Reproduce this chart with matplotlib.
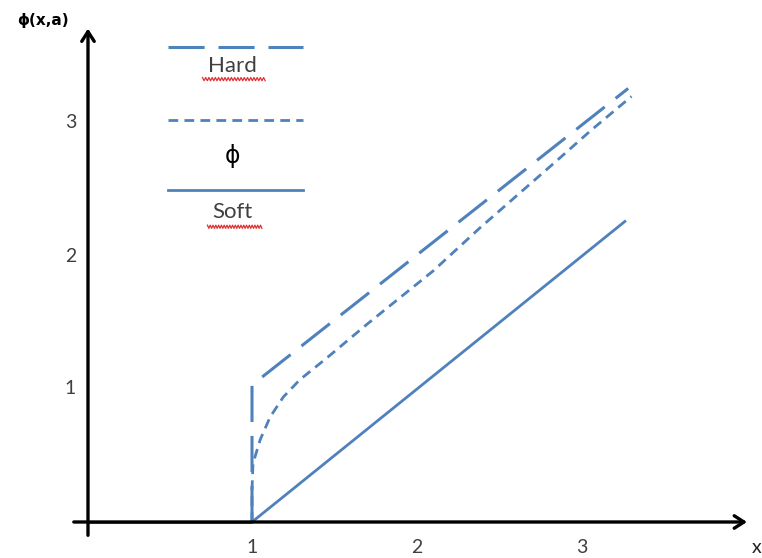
import numpy as np
import matplotlib.pyplot as plt

plt.rcParams['lines.scale_dashes'] = False

zero_x = [0.0, 1.0]
zero_y = [0.0, 0.0]

hard_x = [1.0, 1.0, 3.28]
hard_y = [0.0, 1.03, 3.26]

soft_x = [1.0, 3.26]
soft_y = [0.0, 2.26]

phi_x = [1.0, 1.0, 1.006, 1.05, 1.11, 1.19, 1.29, 1.45, 1.70, 2.10, 2.38, 2.85, 3.05, 3.30]
phi_y = [0.0, 0.24, 0.44, 0.62, 0.79, 0.94, 1.07, 1.23, 1.49, 1.89, 2.21, 2.72, 2.94, 3.20]

x_ticks = [1, 2, 3]
y_ticks = [1, 2, 3]

blue = '#4F81BD'
long_dash = (0, (26, 10))
short_dash = (0, (7, 4.5))

fig = plt.figure(figsize=(7.62, 5.58), dpi=100)
ax = fig.add_axes([0, 0, 1, 1])
ax.set_xlim(-87 / 165, 675 / 165)
ax.set_ylim(-36 / 133, 522 / 133)
ax.axis('off')

# axes with arrow heads
arrow = dict(arrowstyle='->, head_length=0.7, head_width=0.45', lw=2.4,
             color='black', shrinkA=0, shrinkB=0)
ax.annotate('', xy=(4.0, 0), xytext=(-0.08, 0), arrowprops=arrow)
ax.annotate('', xy=(0.006, 3.71), xytext=(0.006, -0.10), arrowprops=arrow)

# curves
ax.plot(zero_x, zero_y, color=blue, lw=2.2, solid_capstyle='butt')
ax.plot(hard_x, hard_y, color=blue, lw=2.2, linestyle=long_dash)
ax.plot(phi_x, phi_y, color=blue, lw=2.0, linestyle=short_dash)
ax.plot(soft_x, soft_y, color=blue, lw=2.0)

# tick labels
for t in x_ticks:
    ax.text(t, -0.195, str(t), ha='center', va='center', fontsize=14,
            color='#404040', family='Lato')
for t in y_ticks:
    ax.text(-0.10, t, str(t), ha='center', va='center', fontsize=14,
            color='#404040', family='Lato')

ax.text(4.06, -0.19, 'x', ha='center', va='center', fontsize=14,
        color='#202020', family='Lato')
ax.text(-0.27, 3.77, 'ϕ(x,a)', ha='center', va='center', fontsize=11,
        fontweight='bold', color='black', family='DejaVu Sans')

# hand-drawn key
ax.plot([0.49, 1.31], [3.57, 3.57], color=blue, lw=2.2, linestyle=long_dash)
ax.plot([0.49, 1.31], [3.02, 3.02], color=blue, lw=2.0, linestyle=short_dash)
ax.plot([0.49, 1.31], [2.50, 2.50], color=blue, lw=2.0)
ax.text(0.88, 3.43, 'Hard', ha='center', va='center', fontsize=16,
        color='#404040', family='Lato')
ax.text(0.88, 2.75, 'ϕ', ha='center', va='center', fontsize=17,
        color='black', family='DejaVu Sans')
ax.text(0.88, 2.33, 'Soft', ha='center', va='center', fontsize=16,
        color='#404040', family='Lato')

# spell-check squiggles under the words
for x0, x1, y0 in [(0.70, 1.08, 3.33), (0.73, 1.06, 2.22)]:
    sx = np.linspace(x0, x1, 40)
    sy = y0 + 0.012 * np.where(np.arange(40) % 2 == 0, 1, -1)
    ax.plot(sx, sy, color='#E03030', lw=0.9)

fig.savefig('out.png', dpi=100)
